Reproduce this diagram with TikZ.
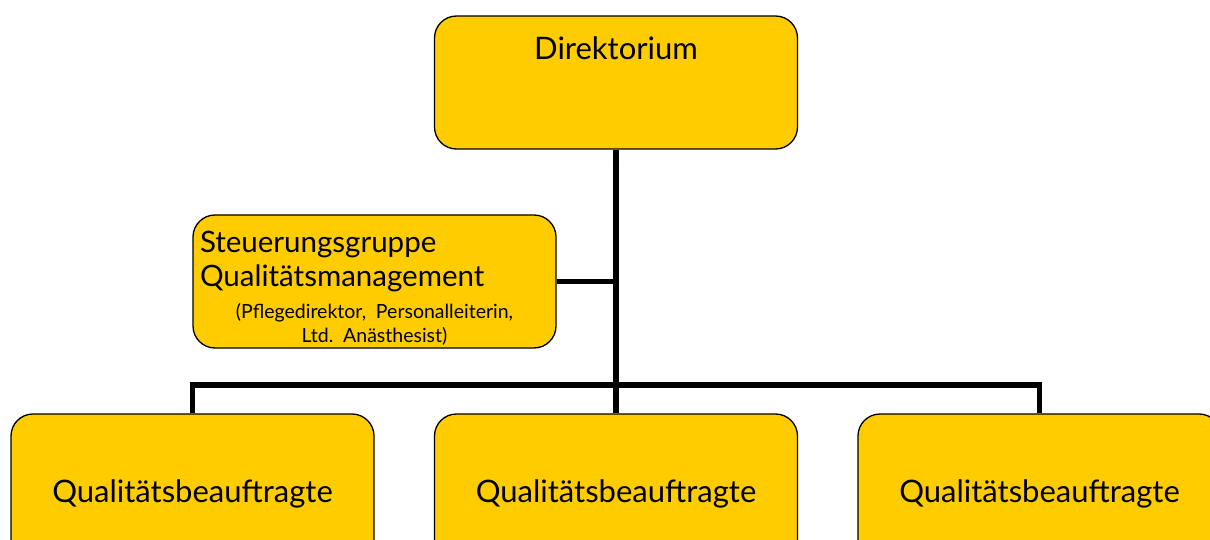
\documentclass[tikz,border=0pt]{standalone}
\usepackage{fontspec}
\setmainfont{Lato}
\definecolor{boxgelb}{HTML}{FFCC00}

\begin{document}
\begin{tikzpicture}
  [x=1pt, y=-1pt,
   every node/.style={font=\fontsize{31}{36}\selectfont},
   orgbox/.style={draw=black, line width=1.3pt, fill=boxgelb, rounded corners=22pt,
                  minimum width=363pt, inner sep=0pt},
   verbindung/.style={line width=5.5pt, line cap=butt}]
  \useasboundingbox (0,0) rectangle (1210,540);
  \clip (0,0) rectangle (1210,540);
  % Direktorium
  \node [orgbox, minimum height=133pt,
         label={[name=dirtext, anchor=north, yshift=-18pt]north:Direktorium}]
        (dir) at (616,82.5) {};
  % Steuerungsgruppe
  \node [orgbox, minimum height=133pt, text width=349pt, inner xsep=7pt, align=left,
         font=\fontsize{29.5}{34}\selectfont\frenchspacing]
        (steu) at (374.5,281.5)
        {\\[0pt]Steuerungsgruppe\\Qualitätsmanagement\\[-2pt]
         \makebox[349pt][c]{\fontsize{19.5}{24}\selectfont (Pflegedirektor, Personalleiterin,}\\[-10pt]
         \makebox[349pt][c]{\fontsize{19.5}{24}\selectfont Ltd. Anästhesist)}};
  % Qualitaetsbeauftragte
  \node [orgbox, minimum height=160pt] (qb1) at (192.5,494) {Qualitätsbeauftragte};
  \node [orgbox, minimum height=160pt] (qb2) at (616,494) {Qualitätsbeauftragte};
  \node [orgbox, minimum height=160pt] (qb3) at (1039.5,494) {Qualitätsbeauftragte};
  \coordinate (bus) at (616,385);
  % Linien
  \draw [verbindung] (dir.south) -- (qb2.north);
  \draw [verbindung] (steu.east) -- (steu.east -| dir.south);
  \draw [verbindung] (qb1.north) |- (bus) -| (qb3.north);
\end{tikzpicture}
\end{document}
